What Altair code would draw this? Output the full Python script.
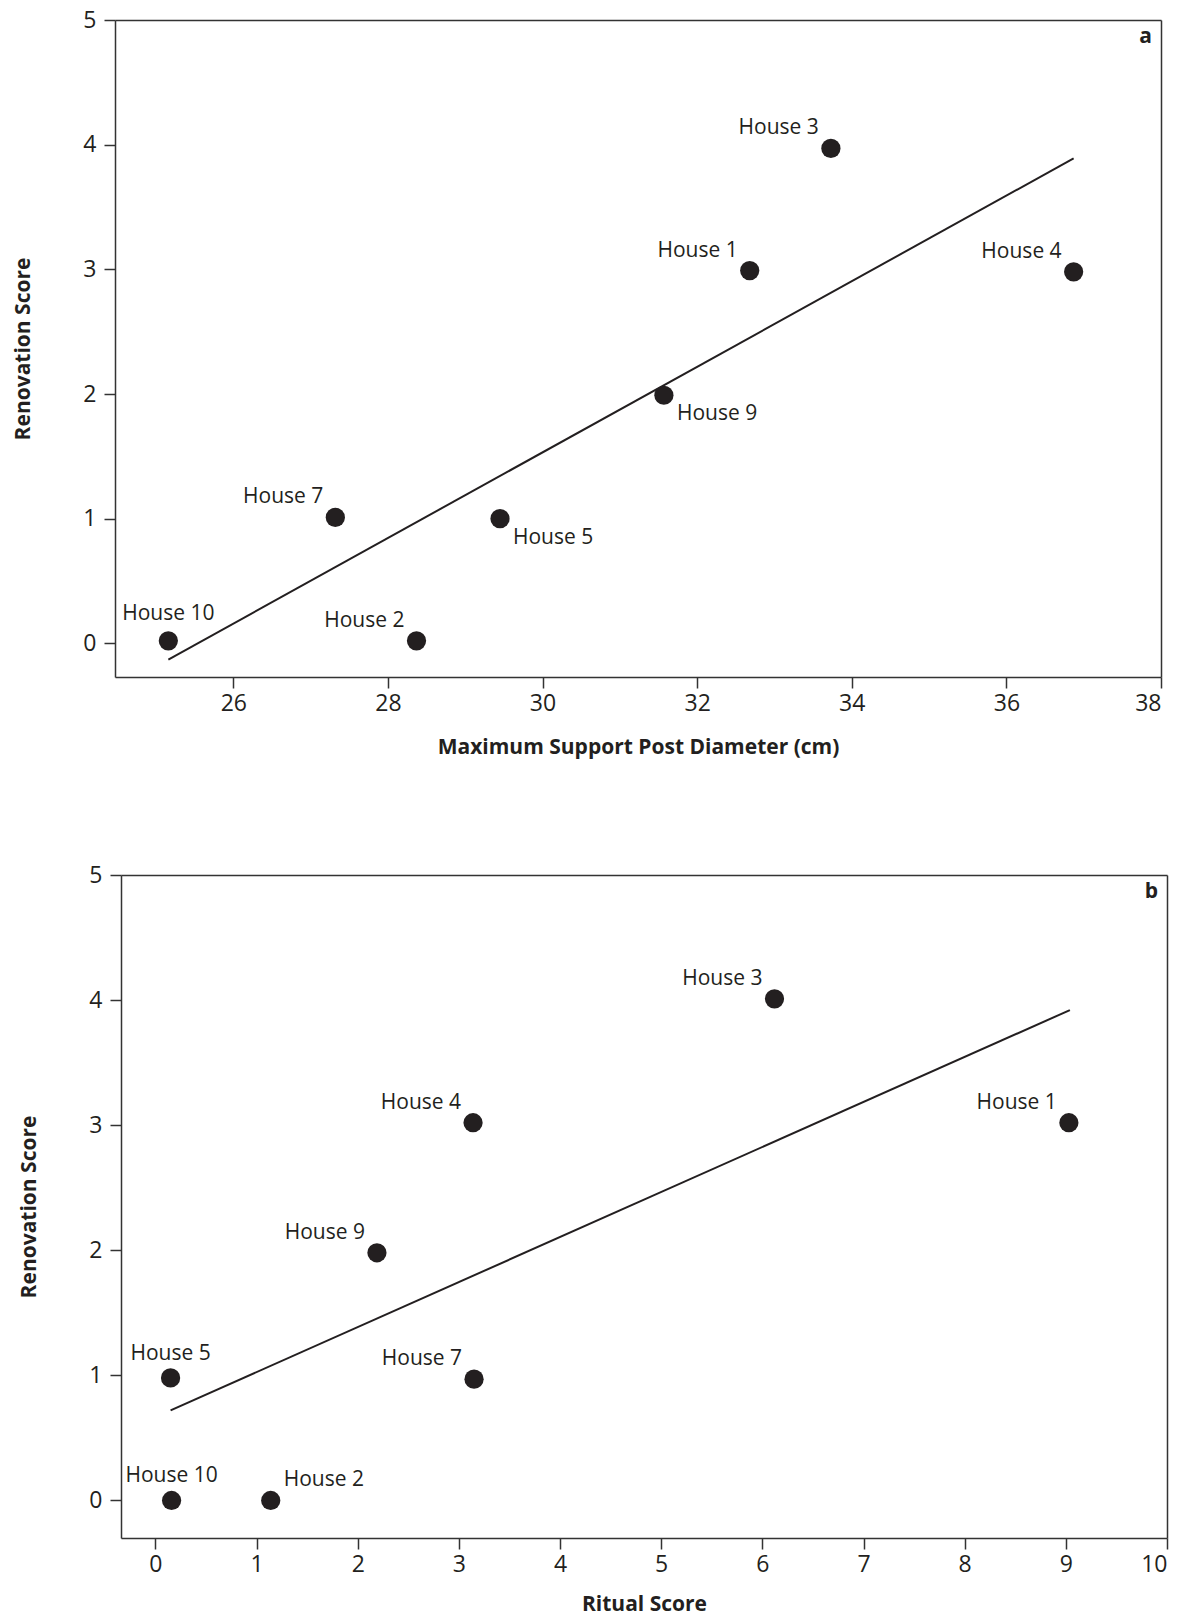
import altair as alt
import pandas as pd

INK = "#231f20"
AXC = "#333333"
FONT = "Open Sans"

# ---- Panel a data ----
houses_a = ["House 10", "House 2", "House 7", "House 5", "House 9", "House 1", "House 3", "House 4"]
post_diam = [25.16, 28.37, 27.32, 29.45, 31.57, 32.68, 33.73, 36.87]
renov_a = [0.02, 0.02, 1.01, 1.0, 1.99, 2.99, 3.97, 2.98]
place_a = ["n", "nw", "nw", "se", "se", "nw", "nw", "nw"]
fit_a_x = [25.16, 36.87]
fit_a_y = [-0.13, 3.89]
xticks_a = [26, 28, 30, 32, 34, 36, 38]

# ---- Panel b data ----
houses_b = ["House 10", "House 2", "House 5", "House 7", "House 9", "House 4", "House 3", "House 1"]
ritual = [0.16, 1.14, 0.15, 3.15, 2.19, 3.14, 6.12, 9.03]
renov_b = [0.0, 0.0, 0.98, 0.97, 1.98, 3.02, 4.01, 3.02]
place_b = ["n", "ne", "n", "nw", "nw", "nw", "nw", "nw"]
fit_b_x = [0.15, 9.04]
fit_b_y = [0.72, 3.92]
xticks_b = [0, 1, 2, 3, 4, 5, 6, 7, 8, 9, 10]

yticks = [0, 1, 2, 3, 4, 5]


def panel(houses, xs_vals, ys_vals, places, fx, fy, xtitle, xdom, ydom, xticks,
          letter, w, h, xoff, xtpad, n_dy):
    placement = {
        "n": ("center", 0, n_dy),
        "nw": ("right", -12, -20),
        "ne": ("left", 13, -20),
        "se": ("left", 13, 19),
    }
    df = pd.DataFrame({"house": houses, "xv": xs_vals, "yv": ys_vals, "place": places})
    fit = pd.DataFrame({"xv": fx, "yv": fy})
    xs = alt.Scale(domain=xdom, nice=False, zero=False, range=[xoff, w])
    ys = alt.Scale(domain=ydom, nice=False, zero=False)
    xax = alt.Axis(orient="bottom", values=xticks, title=xtitle, labelPadding=4,
                   titlePadding=xtpad, format="d")
    yax = alt.Axis(orient="left", values=yticks, title="Renovation Score", labelPadding=8,
                   titlePadding=49, format="d", offset=-xoff)
    base = alt.Chart(df)
    pts = base.mark_circle(size=370, opacity=1, color=INK).encode(
        x=alt.X("xv:Q", scale=xs, axis=xax), y=alt.Y("yv:Q", scale=ys, axis=yax))
    frame = base.mark_point(opacity=0).encode(
        x=alt.X("xv:Q", scale=xs, axis=alt.Axis(orient="top", labels=False, ticks=False, title="")),
        y=alt.Y("yv:Q", scale=ys, axis=alt.Axis(orient="right", labels=False, ticks=False, title="")))
    line = alt.Chart(fit).mark_line(color=INK, strokeWidth=2).encode(
        x=alt.X("xv:Q", scale=xs, axis=None), y=alt.Y("yv:Q", scale=ys, axis=None))
    layers = [pts, frame, line]
    for key, (align, dx, dy) in placement.items():
        if key not in places:
            continue
        layers.append(
            base.transform_filter(alt.datum.place == key)
            .mark_text(align=align, baseline="middle", dx=dx, dy=dy, font=FONT,
                       fontSize=21, color=INK)
            .encode(x=alt.X("xv:Q", scale=xs, axis=None),
                    y=alt.Y("yv:Q", scale=ys, axis=None), text="house:N")
        )
    lt = alt.Chart(pd.DataFrame({"t": [letter]})).mark_text(
        align="right", baseline="middle", font=FONT, fontSize=21, fontWeight="bold", color=INK
    ).encode(x=alt.value(w - 9), y=alt.value(17), text="t:N")
    layers.append(lt)
    return alt.layer(*layers).resolve_axis(x="independent", y="independent").properties(
        width=w, height=h)


pa = panel(houses_a, post_diam, renov_a, place_a, fit_a_x, fit_a_y,
           "Maximum Support Post Diameter (cm)", [24.47, 38], [-0.27, 5], xticks_a, "a",
           1046, 657, 0, 21, -27)
pb = panel(houses_b, ritual, renov_b, place_b, fit_b_x, fit_b_y,
           "Ritual Score", [-0.34, 10], [-0.3, 5], xticks_b, "b",
           1052, 663, 6, 17, -24)

chart = alt.vconcat(pa, pb, spacing=107).properties(
    padding={"left": 4, "top": 1, "right": 5, "bottom": 5}
).configure_view(
    stroke="transparent", strokeWidth=0
).configure_axis(
    grid=False,
    domainColor=AXC,
    domainWidth=1.5,
    tickColor=AXC,
    tickWidth=1.5,
    tickSize=11,
    labelColor=INK,
    labelFont=FONT,
    labelFontSize=23,
    titleColor=INK,
    titleFont=FONT,
    titleFontSize=21,
    titleFontWeight="bold",
)

chart.save("out.html", embed_options={"renderer": "svg", "actions": False})
